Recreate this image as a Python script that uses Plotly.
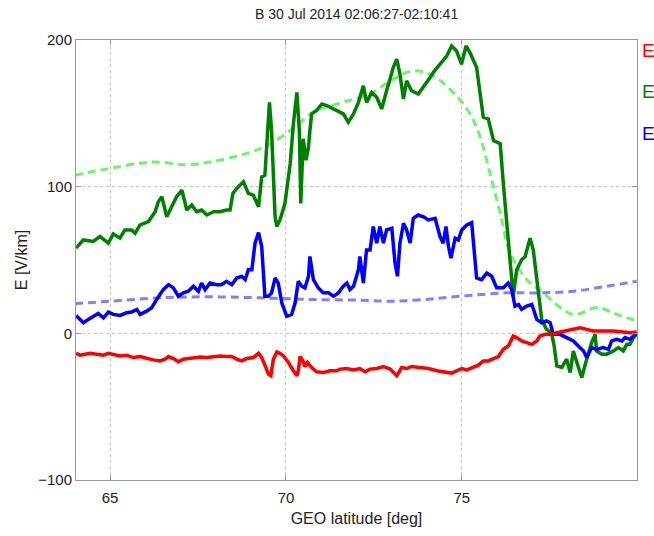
import plotly.graph_objects as go

# GEO latitude [deg] samples for each measured component
lat_x = [64.03, 64.14, 64.29, 64.43, 64.62, 64.81, 64.95, 65.14, 65.28, 65.47, 65.66, 65.85,
         66.04, 66.23, 66.42, 66.56, 66.66, 66.80, 66.94, 67.08, 67.22, 67.37, 67.56, 67.75,
         67.94, 68.13, 68.31, 68.46, 68.60, 68.74, 68.88, 69.07, 69.22, 69.31, 69.40, 69.50,
         69.57, 69.64, 69.74, 69.83, 69.93, 70.07, 70.21, 70.31, 70.35, 70.40, 70.48, 70.54,
         70.61, 70.73, 70.87, 71.06, 71.25, 71.44, 71.54, 71.73, 71.92, 72.10, 72.25, 72.39,
         72.58, 72.77, 72.96, 73.15, 73.29, 73.43, 73.57, 73.81, 74.05, 74.29, 74.47, 74.71,
         74.85, 75.00, 75.14, 75.33, 75.47, 75.61, 75.75, 75.90, 76.04, 76.18, 76.32, 76.46,
         76.56, 76.70, 76.84, 76.99, 77.13, 77.22, 77.37, 77.56, 77.70, 77.98, 78.17, 78.36,
         78.55, 78.74, 79.02, 79.31, 79.59, 79.78, 79.97]
ex = [-13.6, -14.9, -14.2, -13.6, -14.2, -14.9, -13.6, -14.9, -15.4, -14.9, -16.5, -15.8,
      -17.2, -18.1, -18.8, -17.6, -15.8, -17.2, -19.4, -17.6, -17.2, -16.7, -16.1, -16.5,
      -15.8, -15.4, -15.8, -15.8, -17.6, -18.8, -17.2, -16.5, -13.6, -16.5, -21.7, -27.8,
      -28.9, -17.6, -12.7, -13.6, -15.4, -19.9, -25.5, -28.9, -25.5, -15.8, -18.8, -22.6,
      -19.9, -23.3, -26.2, -26.7, -25.5, -25.5, -24.4, -24.0, -24.9, -24.0, -26.2, -24.4,
      -24.0, -22.6, -24.4, -28.9, -23.3, -24.0, -22.6, -23.3, -24.0, -25.5, -26.2, -27.1,
      -25.5, -24.0, -24.9, -23.3, -21.7, -18.8, -18.8, -17.2, -15.8, -10.9, -8.6, -1.8,
      -2.9, -5.2, -6.3, -7.5, -5.2, -1.8, -0.7, -0.7, 0.4, 1.6, 2.7, 3.8,
      2.7, 1.6, 1.6, 1.6, 0.9, 0.4, 0.9]

lat_y = [64.03, 64.24, 64.52, 64.71, 64.95, 65.09, 65.28, 65.42, 65.61, 65.71, 65.85, 66.09,
         66.28, 66.37, 66.47, 66.61, 66.75, 66.89, 67.04, 67.18, 67.32, 67.46, 67.60, 67.75,
         67.94, 68.13, 68.31, 68.41, 68.49, 68.60, 68.79, 68.93, 69.07, 69.22, 69.31, 69.40,
         69.53, 69.59, 69.69, 69.74, 69.83, 69.97, 70.12, 70.21, 70.31, 70.38, 70.42, 70.49,
         70.57, 70.64, 70.68, 70.73, 70.87, 71.02, 71.16, 71.35, 71.49, 71.63, 71.77, 71.92,
         72.06, 72.20, 72.29, 72.44, 72.58, 72.72, 72.86, 73.05, 73.15, 73.24, 73.34, 73.43,
         73.57, 73.76, 74.00, 74.19, 74.38, 74.57, 74.71, 74.85, 74.99, 75.12, 75.23, 75.42,
         75.61, 75.75, 75.90, 76.09, 76.18, 76.28, 76.37, 76.46, 76.56, 76.70, 76.80, 76.94,
         77.03, 77.18, 77.27, 77.40, 77.55, 77.62, 77.70, 77.84, 77.98, 78.08, 78.17, 78.27,
         78.41, 78.55, 78.69, 78.79, 78.83, 78.98, 79.12, 79.31, 79.45, 79.59, 79.69, 79.78,
         79.88, 79.97]
ey = [58.1, 63.7, 62.6, 66.0, 61.5, 67.8, 64.9, 70.5, 70.5, 68.2, 73.9, 76.2,
      82.9, 89.7, 93.1, 79.5, 86.3, 93.1, 97.6, 84.1, 87.5, 82.9, 84.1, 80.7,
      82.9, 82.9, 84.1, 84.1, 95.4, 98.8, 103.3, 95.4, 94.2, 86.3, 106.7, 107.8,
      157.5, 138.3, 79.5, 72.8, 77.3, 88.6, 115.7, 142.8, 164.3, 138.3, 88.6, 132.6,
      118.0, 127.0, 138.3, 149.6, 151.9, 156.4, 155.3, 153.0, 151.9, 149.6, 144.0, 149.6,
      157.5, 168.8, 157.5, 164.3, 160.9, 153.0, 165.4, 181.2, 186.9, 176.7, 159.8, 172.2,
      165.4, 163.2, 171.1, 177.9, 183.5, 189.1, 195.9, 192.5, 183.5, 195.9, 191.4, 181.2,
      147.3, 146.2, 131.5, 129.3, 102.1, 75.0, 47.9, 25.3, 43.4, 50.2, 52.4, 64.9,
      57.0, 29.8, 9.5, 3.0, 0.0, -8.0, -22.2, -23.3, -17.6, -26.7, -12.0, -19.9,
      -30.1, -17.6, -6.3, -0.7, -12.0, -14.2, -14.2, -12.0, -9.7, -12.0, -7.5, -7.5,
      -2.9, -0.7]

lat_z = [64.03, 64.24, 64.38, 64.52, 64.66, 64.81, 64.95, 65.09, 65.28, 65.47, 65.61, 65.76,
         65.85, 66.04, 66.18, 66.32, 66.51, 66.66, 66.80, 66.94, 67.08, 67.22, 67.37, 67.51,
         67.60, 67.70, 67.84, 68.03, 68.17, 68.31, 68.46, 68.60, 68.74, 68.84, 68.93, 69.03,
         69.12, 69.22, 69.31, 69.40, 69.50, 69.59, 69.69, 69.78, 69.88, 70.02, 70.16, 70.26,
         70.35, 70.45, 70.54, 70.64, 70.68, 70.78, 70.92, 71.06, 71.21, 71.35, 71.49, 71.63,
         71.73, 71.82, 71.92, 72.06, 72.10, 72.20, 72.29, 72.39, 72.48, 72.58, 72.67, 72.77,
         72.86, 73.01, 73.10, 73.17, 73.24, 73.34, 73.43, 73.53, 73.62, 73.76, 73.91, 74.05,
         74.24, 74.38, 74.47, 74.55, 74.62, 74.69, 74.81, 74.90, 75.00, 75.14, 75.28, 75.42,
         75.56, 75.71, 75.85, 75.99, 76.18, 76.32, 76.42, 76.51, 76.61, 76.70, 76.84, 76.99,
         77.13, 77.27, 77.41, 77.51, 77.60, 77.79, 77.98, 78.17, 78.31, 78.46, 78.55, 78.69,
         78.83, 79.02, 79.17, 79.26, 79.40, 79.55, 79.64, 79.78, 79.88, 79.97]
ez = [12.2, 7.2, 9.5, 11.7, 13.6, 10.6, 14.5, 12.9, 12.2, 14.0, 14.5, 16.3,
      12.9, 15.1, 17.4, 23.0, 29.8, 33.2, 31.0, 25.3, 27.6, 28.7, 32.1, 28.7,
      34.3, 29.8, 34.3, 33.2, 33.2, 35.5, 33.2, 37.7, 38.9, 36.6, 43.4, 43.4,
      61.5, 68.7, 59.2, 25.3, 25.3, 27.6, 37.7, 34.3, 20.8, 11.7, 12.9, 20.8,
      35.5, 32.1, 31.0, 38.9, 52.4, 36.6, 31.0, 27.6, 27.6, 25.3, 27.6, 32.1,
      34.3, 29.8, 32.1, 43.4, 52.4, 34.3, 56.9, 56.9, 72.8, 61.5, 72.8, 61.5,
      70.5, 71.6, 47.9, 38.9, 61.5, 75.0, 70.5, 61.5, 78.4, 80.7, 79.5, 77.3,
      78.4, 66.0, 61.5, 72.8, 59.2, 51.3, 64.9, 63.7, 70.5, 73.9, 75.5, 37.7,
      36.6, 41.1, 38.9, 31.0, 31.0, 34.3, 29.8, 18.5, 19.7, 16.3, 18.5, 19.7,
      9.5, 7.2, 8.4, 7.2, -0.7, -0.7, -2.9, -5.2, -8.6, -12.0, -16.5, -9.7,
      -10.9, -9.7, -10.9, -5.2, -4.1, -5.2, -2.9, -4.1, -1.8, 0.4]

# Model fields (dashed)
lat_my = [64.0, 65.0, 66.22, 67.19, 67.84, 68.78, 69.46, 70.2, 70.77, 71.62, 72.1, 72.47,
          72.96, 73.61, 74.18, 74.75, 75.23, 75.52, 75.8, 76.09, 76.37, 76.85, 77.31, 78.16,
          78.84, 79.41, 79.98]
my = [107.8, 112.5, 116.8, 115.0, 116.8, 122.0, 128.0, 139.7, 150.7, 157.5, 160.9, 164.3,
      172.0, 179.0, 175.6, 164.3, 149.8, 133.8, 109.0, 82.0, 54.9, 36.6, 27.6, 12.9,
      17.6, 12.9, 8.4]

lat_mz = [64.0, 65.0, 66.42, 67.84, 69.26, 70.68, 72.11, 72.96, 73.91, 74.95, 76.28, 77.22,
          78.17, 79.12, 79.97]
mz = [20.3, 21.9, 24.2, 24.9, 24.2, 23.1, 22.6, 21.9, 23.0, 25.3, 27.6, 27.6,
      28.7, 32.1, 35.5]

x_ticks = [65, 70, 75]
y_ticks = [-100, 0, 100, 200]
title_text = "B 30 Jul 2014 02:06:27-02:10:41"
legend_labels = ["E", "E", "E"]
legend_colors = ["#ff0000", "#008000", "#0000ff"]

FONT = "Liberation Sans, Arial, Helvetica, sans-serif"

fig = go.Figure()
fig.add_trace(go.Scatter(x=lat_my, y=my, mode="lines",
                         line=dict(color="#6cf56c", width=3, dash="8px,5px", shape="spline")))
fig.add_trace(go.Scatter(x=lat_mz, y=mz, mode="lines",
                         line=dict(color="#8080ff", width=3, dash="8px,5px", shape="spline")))
fig.add_trace(go.Scatter(x=lat_y, y=ey, mode="lines",
                         line=dict(color="#008000", width=3.5)))
fig.add_trace(go.Scatter(x=lat_z, y=ez, mode="lines",
                         line=dict(color="#0000ff", width=3.5)))
fig.add_trace(go.Scatter(x=lat_x, y=ex, mode="lines",
                         line=dict(color="#ff0000", width=3.5)))

# Component labels to the right of the frame
for i, (lab, col) in enumerate(zip(legend_labels, legend_colors)):
    fig.add_annotation(text=lab, xref="paper", yref="paper",
                       x=1.006, y=[0.976, 0.882, 0.788][i],
                       xanchor="left", yanchor="middle", showarrow=False,
                       font=dict(size=19, color=col, family=FONT))

# Title centred over the plotting area
fig.add_annotation(text=title_text, xref="paper", yref="paper", x=0.5, y=1.0,
                   yshift=26, xanchor="center", yanchor="middle", showarrow=False,
                   font=dict(size=14, color="#222222", family=FONT))

axis_common = dict(showline=True, mirror="ticks", linecolor="#999999", linewidth=1,
                   ticks="inside", ticklen=5, tickcolor="#999999",
                   showgrid=True, gridcolor="#c8c8c8", griddash="dot", gridwidth=1,
                   zeroline=False, tickfont=dict(size=15, color="#222222", family=FONT))

fig.update_layout(
    width=654, height=536,
    margin=dict(l=76, r=17, t=40, b=53),
    paper_bgcolor="white", plot_bgcolor="white",
    showlegend=False,
    xaxis=dict(range=[64.03, 79.98], tickvals=x_ticks, ticklabelstandoff=4,
               title=dict(text="GEO latitude [deg]", standoff=7,
                          font=dict(size=16, color="#222222", family=FONT)),
               **axis_common),
    yaxis=dict(range=[-100, 200], tickvals=y_ticks,
               title=dict(text="E [V/km]", standoff=6,
                          font=dict(size=16, color="#222222", family=FONT)),
               **axis_common),
)

fig.write_html("out.html")
